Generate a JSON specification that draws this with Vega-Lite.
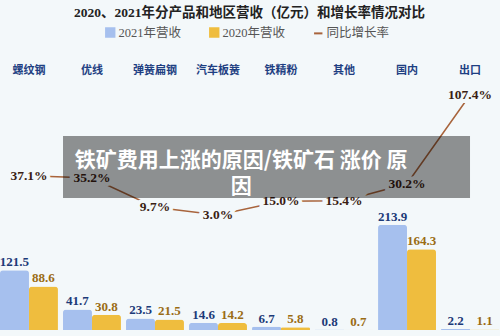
{
  "$schema": "https://vega.github.io/schema/vega-lite/v6.json",
  "width": 499,
  "height": 250,
  "autosize": "none",
  "padding": {"left": 0, "top": 80, "right": 1, "bottom": 6},
  "background": "#f3f8fa",
  "config": {"view": {"stroke": null}, "font": "Liberation Serif, Noto Sans CJK SC"},
  "title": {
    "text": "2020、2021年分产品和地区营收（亿元）和增长率情况对比",
    "fontSize": 13.5,
    "fontWeight": "bold",
    "font": "Liberation Serif, Noto Sans CJK SC",
    "color": "#222222",
    "anchor": "middle",
    "offset": 7
  },
  "datasets": {
    "bars": [
      {"cat": "螺纹钢", "series": "2021年营收", "value": 121.5},
      {"cat": "螺纹钢", "series": "2020年营收", "value": 88.6},
      {"cat": "优线", "series": "2021年营收", "value": 41.7},
      {"cat": "优线", "series": "2020年营收", "value": 30.8},
      {"cat": "弹簧扁钢", "series": "2021年营收", "value": 23.5},
      {"cat": "弹簧扁钢", "series": "2020年营收", "value": 21.5},
      {"cat": "汽车板簧", "series": "2021年营收", "value": 14.6},
      {"cat": "汽车板簧", "series": "2020年营收", "value": 14.2},
      {"cat": "铁精粉", "series": "2021年营收", "value": 6.7},
      {"cat": "铁精粉", "series": "2020年营收", "value": 5.8},
      {"cat": "其他", "series": "2021年营收", "value": 0.8},
      {"cat": "其他", "series": "2020年营收", "value": 0.7},
      {"cat": "国内", "series": "2021年营收", "value": 213.9},
      {"cat": "国内", "series": "2020年营收", "value": 164.3},
      {"cat": "出口", "series": "2021年营收", "value": 2.2},
      {"cat": "出口", "series": "2020年营收", "value": 1.1}
    ],
    "growth": [
      {"cat": "螺纹钢", "rate": 0.371},
      {"cat": "优线", "rate": 0.352},
      {"cat": "弹簧扁钢", "rate": 0.097},
      {"cat": "汽车板簧", "rate": 0.030},
      {"cat": "铁精粉", "rate": 0.150},
      {"cat": "其他", "rate": 0.154},
      {"cat": "国内", "rate": 0.302},
      {"cat": "出口", "rate": 1.074}
    ],
    "overlay": [
      {"label": "铁矿费用上涨的原因/铁矿石 涨价 原\n因"}
    ]
  },
  "encoding": {
    "x": {
      "field": "cat",
      "type": "nominal",
      "sort": ["螺纹钢", "优线", "弹簧扁钢", "汽车板簧", "铁精粉", "其他", "国内", "出口"],
      "scale": {"paddingInner": 0.08, "paddingOuter": 0},
      "axis": {
        "orient": "top",
        "title": null,
        "domain": false,
        "ticks": false,
        "grid": false,
        "labelAngle": 0,
        "labelFontSize": 11,
        "labelFontWeight": "bold",
        "labelColor": "#1e3f82",
        "labelFont": "Liberation Serif, Noto Sans CJK SC",
        "labelPadding": 5
      }
    }
  },
  "layer": [
    {
      "data": {"name": "bars"},
      "encoding": {
        "y": {"field": "value", "type": "quantitative", "scale": {"domain": [0, 508], "nice": false}, "axis": null},
        "xOffset": {"field": "series", "type": "nominal", "sort": ["2021年营收", "2020年营收"], "scale": {"paddingInner": 0, "paddingOuter": 0}}
      },
      "layer": [
        {
          "mark": {"type": "bar", "cornerRadiusTopLeft": 3, "cornerRadiusTopRight": 3},
          "encoding": {
            "color": {
              "field": "series",
              "type": "nominal",
              "scale": {"domain": ["2021年营收", "2020年营收", "同比增长率"], "range": ["#a6c0ee", "#efbd3e", "#a8643c"]},
              "legend": {
                "orient": "none",
                "legendX": 104,
                "legendY": -54,
                "direction": "horizontal",
                "title": null,
                "labelFontSize": 12.5,
                "labelColor": "#555555",
                "labelFont": "Liberation Serif, Noto Sans CJK SC",
                "symbolSize": 70,
                "symbolStrokeWidth": 2,
                "columnPadding": 24,
                "labelOffset": 2,
                "encode": {
                  "symbols": {
                    "update": {
                      "shape": {"signal": "datum.value === '同比增长率' ? 'stroke' : 'square'"},
                      "stroke": {"signal": "scale('color', datum.value)"},
                      "fill": {"signal": "scale('color', datum.value)"}
                    }
                  }
                }
              }
            }
          }
        },
        {
          "mark": {"type": "text", "dy": -8, "fontSize": 13, "fontWeight": "bold", "font": "Liberation Serif"},
          "encoding": {
            "text": {"field": "value", "type": "quantitative", "format": ".1f"},
            "color": {"condition": {"test": "datum.series === '2021年营收'", "value": "#1c3a78"}, "value": "#9a6c14"}
          }
        }
      ]
    },
    {
      "data": {"name": "growth"},
      "encoding": {
        "y": {"field": "rate", "type": "quantitative", "scale": {"domain": [-0.97, 1.204], "nice": false, "zero": false}, "axis": null}
      },
      "layer": [
        {
          "mark": {"type": "line", "strokeWidth": 1.5},
          "encoding": {"color": {"datum": "同比增长率"}}
        },
        {
          "mark": {"type": "text", "fontSize": 13.5, "fontWeight": "bold", "font": "Liberation Serif", "fill": "#f3f8fa", "stroke": "#f3f8fa", "strokeWidth": 8},
          "encoding": {"text": {"field": "rate", "type": "quantitative", "format": ".1%"}}
        },
        {
          "mark": {"type": "text", "fontSize": 13.5, "fontWeight": "bold", "font": "Liberation Serif", "color": "#3a1e14"},
          "encoding": {"text": {"field": "rate", "type": "quantitative", "format": ".1%"}}
        }
      ]
    },
    {
      "data": {"name": "overlay"},
      "layer": [
        {
          "mark": {"type": "rect", "color": "#000000", "opacity": 0.42},
          "encoding": {
            "x": {"datum": "优线", "bandPosition": 0},
            "x2": {"datum": "出口"},
            "y": {"datum": 0.717, "type": "quantitative", "scale": {"domain": [-0.97, 1.204], "nice": false, "zero": false}, "axis": null},
            "y2": {"datum": 0.178}
          }
        },
        {
          "mark": {"type": "text", "color": "white", "fontSize": 21, "fontWeight": "bold", "font": "Noto Sans CJK SC", "lineBreak": "\n", "lineHeight": 26, "baseline": "middle"},
          "encoding": {
            "x": {"datum": "汽车板簧", "bandPosition": 0.9},
            "y": {"datum": 0.496, "type": "quantitative", "scale": {"domain": [-0.97, 1.204], "nice": false, "zero": false}, "axis": null},
            "text": {"field": "label"}
          }
        }
      ]
    }
  ],
  "resolve": {"scale": {"y": "independent"}}
}
